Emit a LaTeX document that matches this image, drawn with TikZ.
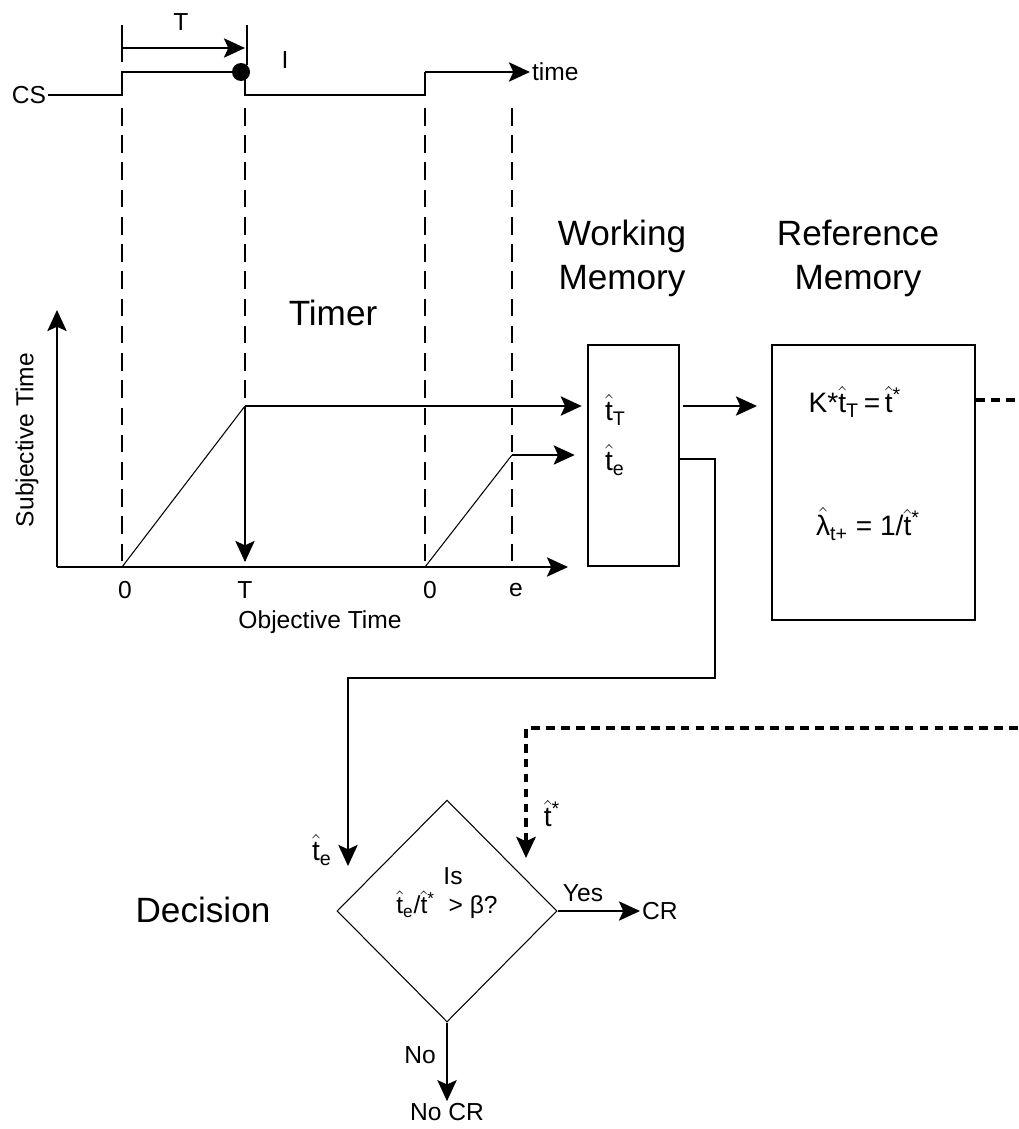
\documentclass[tikz,border=0pt]{standalone}
\usepackage{fontspec}
\setmainfont{Liberation Sans}
\usepackage{tikz}
\usetikzlibrary{arrows.meta, shapes.geometric, positioning}

\newcommand{\hatof}[1]{$\hat{\mbox{#1}}$}
\newcommand{\that}{\hatof{t}}

\begin{document}
\begin{tikzpicture}[x=0.02cm, y=-0.02cm,
    >={Stealth[length=12pt, width=11pt, inset=2.5pt]},
    lbl/.style={font=\fontsize{14}{16}\selectfont, inner sep=1pt},
    sym/.style={font=\fontsize{16}{18}\selectfont, inner sep=1pt},
    title/.style={font=\fontsize{20}{25}\selectfont, align=center, inner sep=1pt},
    wire/.style={line width=1.1pt},
    ramp/.style={line width=0.6pt},
    guide/.style={line width=0.9pt, dash pattern=on 10pt off 5.5pt},
    feed/.style={line width=2.3pt, dash pattern=on 5pt off 3.5pt},
    membox/.style={draw, line width=1.1pt, inner sep=0pt}]

    \useasboundingbox (0,0) rectangle (1018,1129);

    % CS signal on top
    \node[lbl] (cs) at (29,95) {CS};
    \node[lbl, anchor=west] (time) at (530,72) {time};
    \draw[wire] (cs.east) -- (122,95) -- (122,72) -- (245,72) -- (245,95) -- (425,95) -- (425,72);
    \draw[wire,->] (425,72) -- (time.west);
    \fill (241,72) circle (9);

    % interval T
    \draw[wire] (122,25) -- (122,62);
    \draw[wire] (247,25) -- (247,65);
    \draw[wire,->] (122,48) -- (245,48);
    \node[lbl] (lblT) at (181,22) {T};
    \node[lbl] (lblI) at (285,60) {I};

    % guides down to the axis
    \foreach \xg in {122,245,425,512}
        \draw[guide] (\xg,108) -- (\xg,567);

    % Timer axes
    \coordinate (orig) at (57,567);
    \draw[wire,->] (orig) -- (57,310);
    \draw[wire,->] (orig) -- (568,567);
    \node[lbl, rotate=90] (ylab) at (27,440) {Subjective Time};
    \node[lbl] (xlab) at (320,622) {Objective Time};
    \node[lbl] at (125,590) {0};
    \node[lbl] at (245,590) {T};
    \node[lbl] at (430,590) {0};
    \node[lbl] at (516,590) {e};
    \node[title] (timer) at (333,313) {Timer};

    % ramps
    \coordinate (peakT) at (245,406);
    \coordinate (peakE) at (512,455);
    \draw[ramp] (122,567) -- (peakT);
    \draw[ramp] (425,567) -- (peakE);
    \draw[wire,->] (peakT) -- (245,562);

    % Working memory
    \node[title] (wmlab) at (622,258) {Working\\Memory};
    \node[membox, minimum width=1.82cm, minimum height=4.42cm] (wm) at (633.5,455.5) {};
    \node[sym, anchor=west] (tT) at (603,410) {\that\textsubscript{T}};
    \node[sym, anchor=west] (te) at (603,460) {\that\textsubscript{e}};
    \draw[wire,->, shorten >=3pt] (peakT) -- (peakT -| wm.west);
    \draw[wire,->, shorten >=7pt] (peakE) -- (peakE -| wm.west);

    % Reference memory
    \node[title] (rmlab) at (858,258) {Reference\\Memory};
    \node[membox, minimum width=4.06cm, minimum height=5.5cm] (rm) at (873.5,482.5) {};
    \node[sym] (kform) at (855,402) {K*\that\textsubscript{T}\,=\,\that\textsuperscript{*}};
    \node[sym] (lform) at (868,524) {\hatof{λ}\textsubscript{t+} = 1/\that\textsuperscript{*}};
    \draw[wire,->, shorten <=2pt, shorten >=8pt] (wm.east |- peakT) -- (rm.west |- peakT);
    \coordinate (edgeA) at (1018,400);
    \draw[feed] (rm.east |- edgeA) -- (edgeA);

    % Decision
    \node[title] (declab) at (203,910) {Decision};
    \node[draw, diamond, line width=0.6pt, minimum width=4.4cm, minimum height=4.44cm, inner sep=0pt] (dec) at (447,911) {};
    \node[lbl] (is) at (453,876) {Is};
    \node[lbl] (ask) at (447,905) {\that\textsubscript{e}/\that\textsuperscript{*}\ \ > β?};
    \coordinate (wmout) at (679,459);
    \coordinate (dinL) at (348,866);
    \coordinate (dinR) at (526,858);
    \coordinate (edgeB) at (1018,728);
    \draw[wire,->] (wmout) -- (715,459) -- (715,678) -| (dinL);
    \draw[feed,->] (edgeB) -| (dinR);
    \node[sym] at (322,850) {\that\textsubscript{e}};
    \node[sym] at (552,814) {\that\textsuperscript{*}};

    % outcomes
    \node[lbl, anchor=west] (cr) at (640,911) {CR};
    \node[lbl] (nocr) at (447,1112) {No CR};
    \draw[wire,->] (dec.east) -- (cr.west);
    \draw[wire,->] (dec.south) -- (nocr.north);
    \node[lbl] at (583,893) {Yes};
    \node[lbl] at (420,1055) {No};
\end{tikzpicture}
\end{document}
